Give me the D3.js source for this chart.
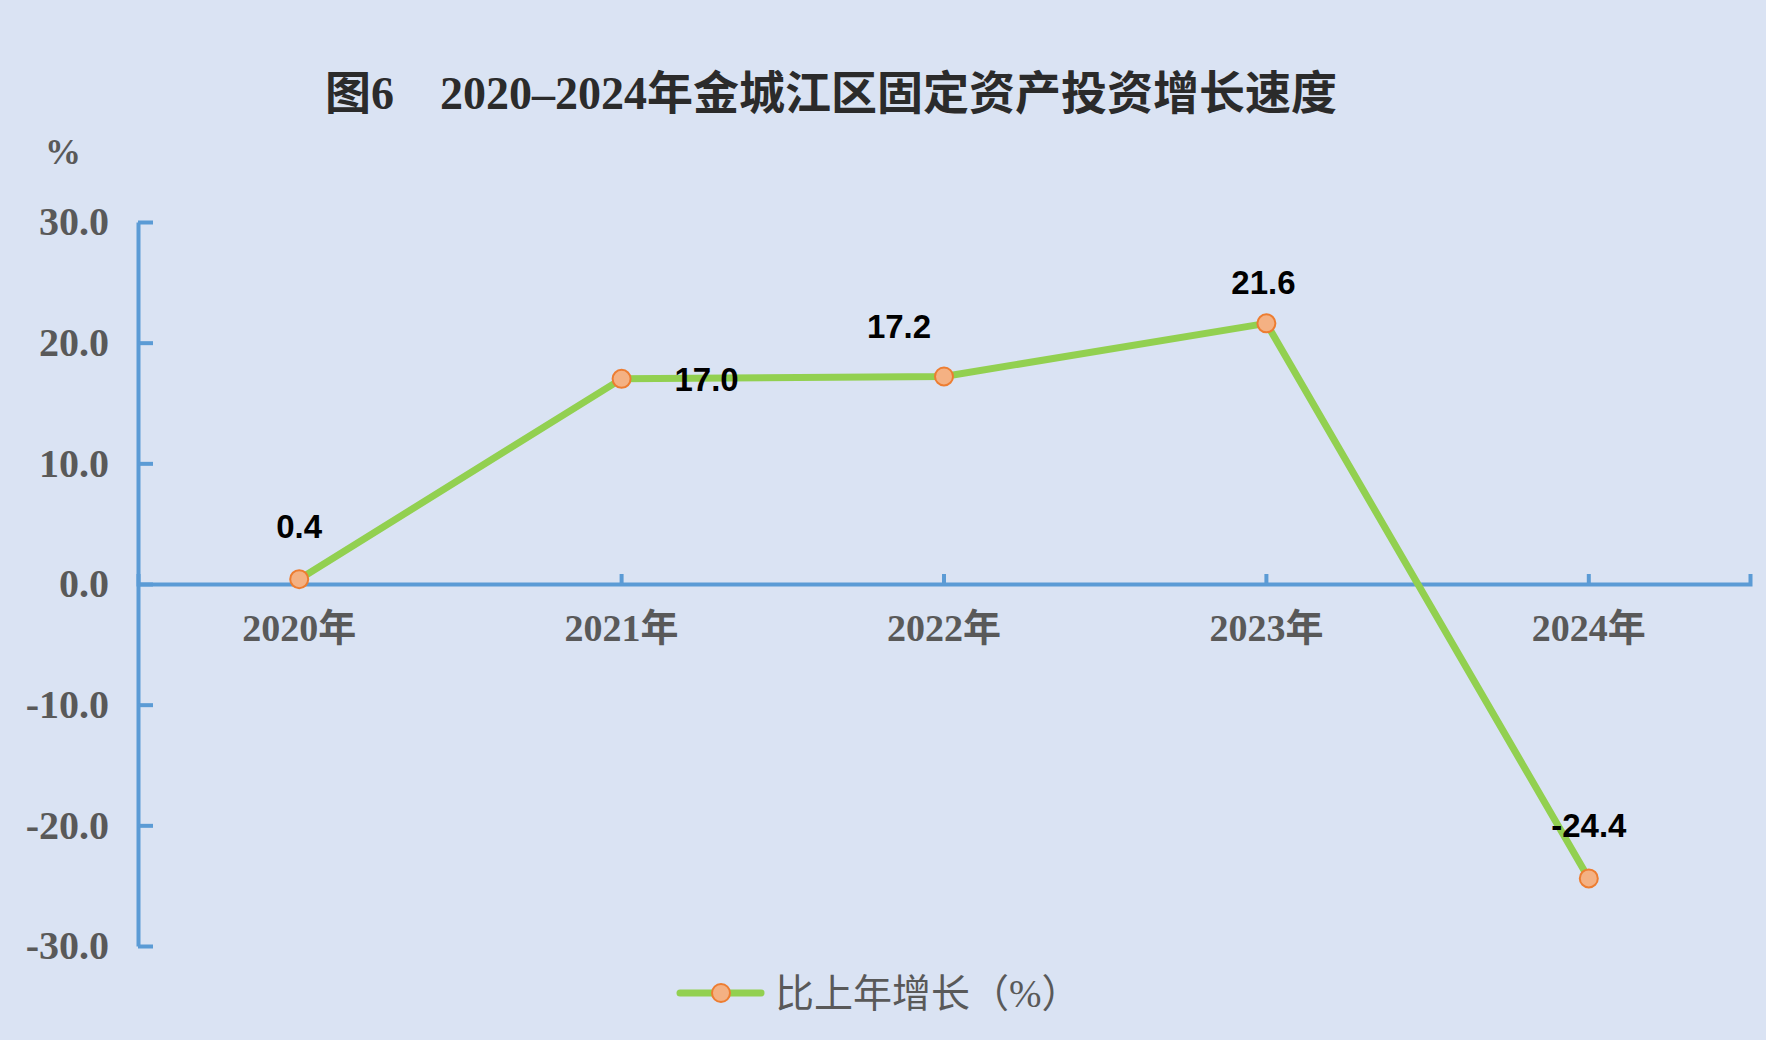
<!DOCTYPE html>
<html>
<head>
<meta charset="utf-8">
<script src="https://cdn.jsdelivr.net/npm/d3@7"></script>
<style>
  html, body { margin: 0; padding: 0; background: #DAE3F3; }
  #chart { width: 1766px; height: 1040px; }
</style>
</head>
<body>
<div id="chart"></div>
<script>
// 数据
const years = ["2020年", "2021年", "2022年", "2023年", "2024年"];
const growth = [0.4, 17.0, 17.2, 21.6, -24.4];
const yTicks = [-30, -20, -10, 0, 10, 20, 30];
const labelPlace = ["above", "right", "aboveLeft", "aboveNear", "above"];
const titleText = "图6　2020–2024年金城江区固定资产投资增长速度";
const legendText = "比上年增长（%）";

document.addEventListener("DOMContentLoaded", function () {
    const width = 1766;
    const height = 1040;
    const axisColor = "#5B9BD5";
    const serif = "'Liberation Serif', 'Noto Sans CJK SC', serif";
    const sans = "'Liberation Sans', 'Noto Sans CJK SC', sans-serif";

    const svg = d3.select("#chart").append("svg")
        .attr("width", width)
        .attr("height", height);

    svg.append("rect")
        .attr("width", width)
        .attr("height", height)
        .attr("fill", "#DAE3F3");

    // 标题
    svg.append("text")
        .attr("x", 831)
        .attr("y", 109)
        .attr("text-anchor", "middle")
        .style("font-family", serif)
        .style("font-weight", "bold")
        .style("font-size", "46px")
        .style("fill", "#2b2b2b")
        .text(titleText);

    // 单位
    svg.append("text")
        .attr("x", 63)
        .attr("y", 164)
        .attr("text-anchor", "middle")
        .style("font-family", serif)
        .style("font-weight", "bold")
        .style("font-size", "36px")
        .style("fill", "#595959")
        .text("%");

    const x = d3.scaleBand()
        .domain(years)
        .range([138, 1750]);

    const y = d3.scaleLinear()
        .domain([-30, 30])
        .range([946, 222]);

    // Y 轴
    const yAxis = svg.append("g")
        .attr("transform", "translate(138, 0)")
        .call(d3.axisLeft(y)
            .tickValues(yTicks)
            .tickFormat(d => d.toFixed(1))
            .tickSizeInner(-15)
            .tickSizeOuter(0)
            .tickPadding(29));
    yAxis.select(".domain").attr("stroke", axisColor).attr("stroke-width", 4);
    yAxis.selectAll(".tick line").attr("stroke", axisColor).attr("stroke-width", 4);
    yAxis.selectAll(".tick text")
        .style("font-family", serif)
        .style("font-weight", "bold")
        .style("font-size", "40px")
        .style("fill", "#595959");

    // X 轴（位于 0 处）
    const xAxis = svg.append("g")
        .attr("transform", `translate(0, ${y(0)})`)
        .call(d3.axisBottom(x)
            .tickSizeInner(-10)
            .tickSizeOuter(-10)
            .tickPadding(30));
    xAxis.select(".domain").attr("stroke", axisColor).attr("stroke-width", 4).attr("fill", "none");
    xAxis.selectAll(".tick line").attr("stroke", axisColor).attr("stroke-width", 4);
    xAxis.selectAll(".tick text")
        .style("font-family", serif)
        .style("font-weight", "bold")
        .style("font-size", "38px")
        .style("fill", "#595959");

    // 折线
    const line = d3.line()
        .x((d, i) => x(years[i]) + x.bandwidth() / 2)
        .y(d => y(d));

    svg.append("path")
        .datum(growth)
        .attr("d", line)
        .attr("fill", "none")
        .attr("stroke", "#92D050")
        .attr("stroke-width", 7)
        .attr("stroke-linejoin", "round");

    svg.selectAll(".dot")
        .data(growth)
        .enter()
        .append("circle")
        .attr("class", "dot")
        .attr("cx", (d, i) => x(years[i]) + x.bandwidth() / 2)
        .attr("cy", d => y(d))
        .attr("r", 9)
        .attr("fill", "#F4B183")
        .attr("stroke", "#ED7D31")
        .attr("stroke-width", 2);

    // 数据标签
    const offsets = {
        above: [0, -53],
        aboveNear: [-3, -41],
        right: [85, 0],
        aboveLeft: [-45, -50]
    };
    svg.selectAll(".label")
        .data(growth)
        .enter()
        .append("text")
        .attr("class", "label")
        .attr("x", (d, i) => x(years[i]) + x.bandwidth() / 2 + offsets[labelPlace[i]][0])
        .attr("y", (d, i) => y(d) + offsets[labelPlace[i]][1])
        .attr("dy", "0.36em")
        .attr("text-anchor", "middle")
        .style("font-family", sans)
        .style("font-weight", "bold")
        .style("font-size", "33px")
        .style("fill", "#000")
        .text(d => d.toFixed(1));

    // 图例
    const legend = svg.append("g").attr("transform", "translate(680, 993)");
    legend.append("line")
        .attr("x1", 0).attr("x2", 81)
        .attr("stroke", "#92D050")
        .attr("stroke-width", 7)
        .attr("stroke-linecap", "round");
    legend.append("circle")
        .attr("cx", 41)
        .attr("r", 9)
        .attr("fill", "#F4B183")
        .attr("stroke", "#ED7D31")
        .attr("stroke-width", 2);
    legend.append("text")
        .attr("x", 95)
        .attr("dy", "0.36em")
        .style("font-family", serif)
        .style("font-size", "39px")
        .style("fill", "#595959")
        .text(legendText);
});
</script>
</body>
</html>
